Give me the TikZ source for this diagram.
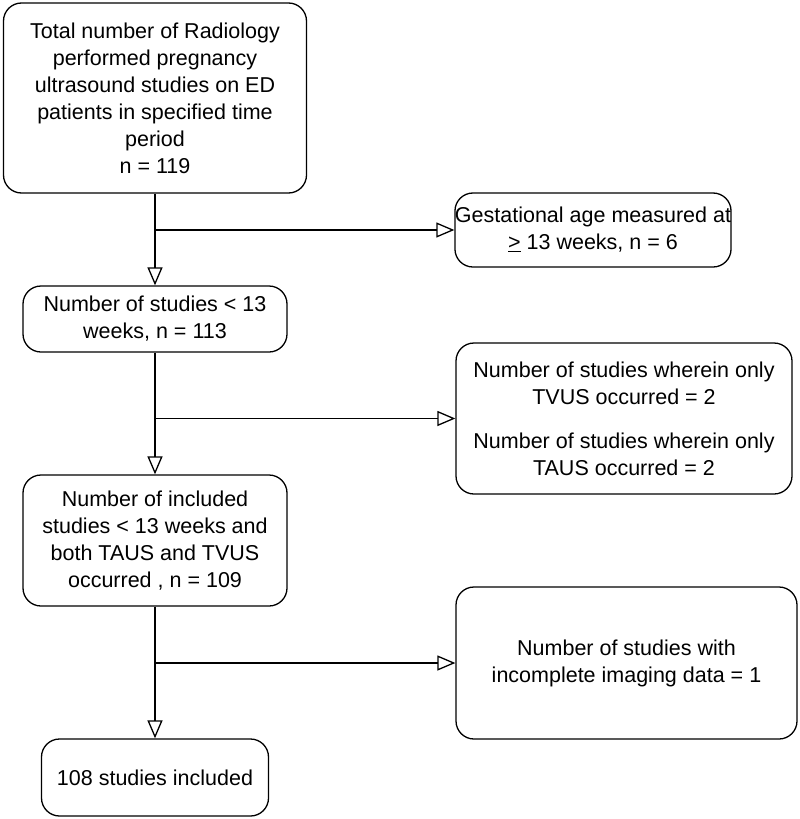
\documentclass[tikz,border=0pt]{standalone}
\usepackage{fontspec}
\setmainfont{Liberation Sans}
\usetikzlibrary{arrows.meta, positioning, calc}

\begin{document}
\begin{tikzpicture}[
  x=1pt, y=-1pt,
  every node/.style={font=\fontsize{21.5}{27}\selectfont, align=center, inner sep=0pt},
  flowbox/.style={draw=black, line width=1.3pt, rounded corners=18pt},
  arr/.style={-{Triangle[open, length=18pt, width=15pt]}, line width=1.3pt},
]
  \useasboundingbox (0,0) rectangle (800,819);

  % Main column
  \node[flowbox, minimum width=303pt, minimum height=190pt] (total) at (155,98)
    {Total number of Radiology\\performed pregnancy\\ultrasound studies on ED\\patients in specified time\\period\\n = 119};
  \node[flowbox, minimum width=264pt, minimum height=66pt] (lt13) at (155,319)
    {Number of studies < 13\\weeks, n = 113};
  \node[flowbox, minimum width=264pt, minimum height=131pt] (both) at (155,540.5)
    {Number of included\\studies < 13 weeks and\\both TAUS and TVUS\\occurred , n = 109};
  \node[flowbox, minimum width=227pt, minimum height=77pt] (final) at (155,777.5)
    {108 studies included};

  % Excluded
  \node[flowbox, minimum width=272pt, minimum height=74pt] (gest) at (593,230)
    {Gestational age measured at\\\underline{>} 13 weeks, n = 6};
  \node[flowbox, minimum width=336pt, minimum height=151pt] (only) at (624,418.5)
    {Number of studies wherein only\\TVUS occurred = 2\\[17pt]Number of studies wherein only\\TAUS occurred = 2};
  \node[flowbox, minimum width=341pt, minimum height=152pt] (incomp) at (626.5,663)
    {Number of studies with\\incomplete imaging data = 1};

  % Arrows
  \draw[arr] (total) -- (lt13);
  \draw[arr] (lt13)  -- (both);
  \draw[arr] (both)  -- (final);
  \draw[arr] (total.south |- gest.west)   -- (gest);
  \draw[arr] (lt13.south |- only.west)    -- (only);
  \draw[arr] (both.south |- incomp.west)  -- (incomp);
\end{tikzpicture}
\end{document}
